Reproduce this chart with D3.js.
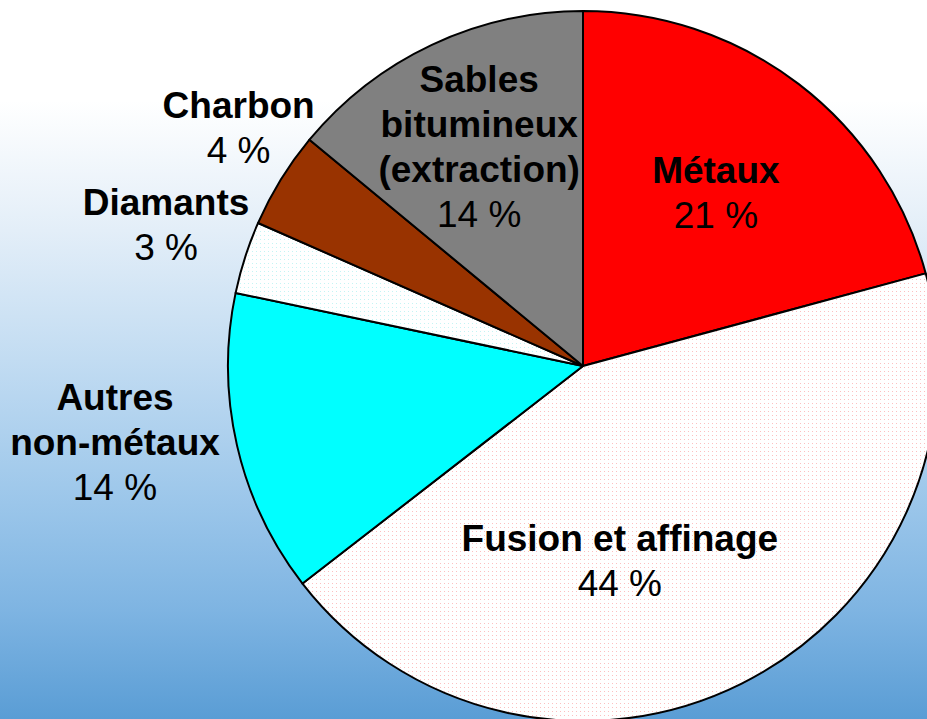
<!DOCTYPE html>
<html>
<head>
<meta charset="utf-8">
<script src="https://cdn.jsdelivr.net/npm/d3@7"></script>
<style>
  html, body { margin: 0; padding: 0; }
  body { width: 927px; height: 719px; overflow: hidden; }
  svg { display: block; }
</style>
</head>
<body>
<div id="chart"></div>
<script>
/* Emissions by mining sub-sector — pie, clockwise from 12 o'clock */
var categories = ['Métaux', 'Fusion et affinage', 'Autres non-métaux', 'Diamants', 'Charbon', 'Sables bitumineux (extraction)'];
var nameLines = [['Métaux'], ['Fusion et affinage'], ['Autres', 'non-métaux'], ['Diamants'], ['Charbon'], ['Sables', 'bitumineux', '(extraction)']];
var values = [20.8, 43.7, 13.8, 3.3, 4.4, 14.0];   // read from slice edges
var pctLabels = ['21 %', '44 %', '14 %', '3 %', '4 %', '14 %'];

(function () {
  'use strict';
  var W = 927, H = 719;
  var cx = 583, cy = 366, R = 355;
  var lineH = 45;

  var fills = ['#ff0000', 'url(#dotPink)', '#00ffff', 'url(#dotCyan)', '#993300', '#808080'];
  /* label placement: radius factor and angle nudge (deg) from slice middle */
  var labelK = [0.588, 0.594, 1.342, 1.229, 1.159, 0.651];
  var labelShift = [2.1, 16.4, 2.2, -0.7, 1.5, -1.5];

  var svg = d3.select('#chart').append('svg').attr('width', W).attr('height', H);
  var defs = svg.append('defs');

  var grad = defs.append('linearGradient').attr('id', 'bg')
    .attr('x1', 0).attr('y1', 0).attr('x2', 0).attr('y2', 1);
  [[0, '#ffffff'], [0.14, '#ffffff'], [0.32, '#e3eef8'], [0.5, '#c2dcf2'],
   [0.7, '#9bc6ea'], [0.85, '#7eb4e2'], [1, '#5a9dd5']].forEach(function (s) {
    grad.append('stop').attr('offset', s[0]).attr('stop-color', s[1]);
  });
  svg.append('rect').attr('width', W).attr('height', H).attr('fill', 'url(#bg)');

  function dotPattern(id, dot) {
    var p = defs.append('pattern').attr('id', id).attr('patternUnits', 'userSpaceOnUse')
      .attr('width', 4).attr('height', 4);
    p.append('rect').attr('width', 4).attr('height', 4).attr('fill', '#ffffff');
    p.append('rect').attr('x', 1).attr('y', 1).attr('width', 1).attr('height', 1).attr('fill', dot);
  }
  dotPattern('dotPink', '#fcc0c0');
  dotPattern('dotCyan', '#c4f4f4');

  var pie = d3.pie().sort(null).value(function (d) { return d; });
  var arcs = pie(values);
  var arc = d3.arc().innerRadius(0).outerRadius(R);

  var g = svg.append('g').attr('transform', 'translate(' + cx + ',' + cy + ')');
  g.selectAll('path.slice').data(arcs).enter().append('path')
    .attr('class', 'slice')
    .attr('d', arc)
    .attr('fill', function (d, i) { return fills[i]; })
    .attr('stroke', '#000')
    .attr('stroke-width', 2)
    .attr('stroke-linejoin', 'round');

  var font = '"Liberation Sans", Arial, Helvetica, sans-serif';
  arcs.forEach(function (d, i) {
    var mid = (d.startAngle + d.endAngle) / 2 + labelShift[i] * Math.PI / 180;
    var rr = labelK[i] * R;
    var x = rr * Math.sin(mid), y = -rr * Math.cos(mid);
    var lines = nameLines[i].map(function (t) { return { t: t, b: true }; })
      .concat([{ t: pctLabels[i], b: false }]);
    var y0 = y - (lines.length - 1) * lineH / 2;
    var t = g.append('text')
      .attr('text-anchor', 'middle')
      .style('font-family', font)
      .style('font-size', '37px')
      .style('fill', '#000');
    lines.forEach(function (l, j) {
      t.append('tspan')
        .attr('x', x).attr('y', y0 + j * lineH)
        .style('font-weight', l.b ? 'bold' : 'normal')
        .text(l.t);
    });
  });
})();
</script>
</body>
</html>
